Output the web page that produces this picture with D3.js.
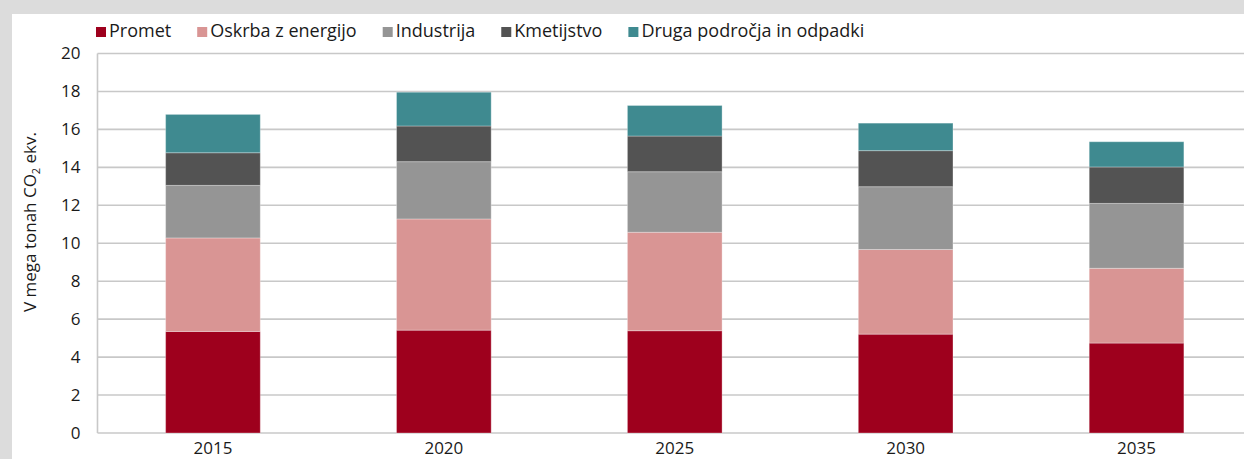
<!DOCTYPE html>
<html>
<head>
<meta charset="utf-8">
<script src="https://cdn.jsdelivr.net/npm/d3@7"></script>
<style>
  body { margin: 0; background: #dcdcdc; }
  text { font-family: "Open Sans", "Noto Sans", sans-serif; fill: #1a1a1a; }
</style>
</head>
<body>
<script>
const config = {
  width: 1244,
  height: 459
};

// Data
const years = ["2015", "2020", "2025", "2030", "2035"];
const seriesNames = ["Promet", "Oskrba z energijo", "Industrija", "Kmetijstvo", "Druga področja in odpadki"];
const promet = [5.35, 5.42, 5.39, 5.21, 4.74];
const oskrba = [4.93, 5.86, 5.19, 4.46, 3.94];
const industrija = [2.77, 3.02, 3.19, 3.31, 3.42];
const kmetijstvo = [1.72, 1.88, 1.88, 1.90, 1.92];
const druga = [2.02, 1.78, 1.61, 1.45, 1.33];
const yTicks = [0, 2, 4, 6, 8, 10, 12, 14, 16, 18, 20];
const colors = ["#9e001d", "#d99594", "#959595", "#535353", "#3f8a90"];

const rows = years.map((y, i) => ({
  year: y,
  "Promet": promet[i],
  "Oskrba z energijo": oskrba[i],
  "Industrija": industrija[i],
  "Kmetijstvo": kmetijstvo[i],
  "Druga področja in odpadki": druga[i]
}));

// Canvas
const svg = d3
  .select("body")
  .append("svg")
  .attr("width", config.width)
  .attr("height", config.height)
  .style("display", "block");

// white panel
svg
  .append("rect")
  .attr("x", 12)
  .attr("y", 14)
  .attr("width", config.width - 12)
  .attr("height", config.height - 14)
  .attr("fill", "#ffffff");

const plot = { left: 97.5, right: 1252, top: 53.5, bottom: 433 };

// Scales
const x = d3
  .scaleBand()
  .domain(years)
  .range([plot.left, plot.right])
  .paddingInner(0.59)
  .paddingOuter(0.295);

const y = d3
  .scaleLinear()
  .domain([0, 20])
  .range([plot.bottom, plot.top]);

const color = d3.scaleOrdinal().domain(seriesNames).range(colors);

// Grid lines
svg
  .append("g")
  .selectAll("line")
  .data(yTicks)
  .enter()
  .append("line")
  .attr("x1", plot.left)
  .attr("x2", config.width)
  .attr("y1", d => y(d))
  .attr("y2", d => y(d))
  .attr("stroke", "#c8c8c8")
  .attr("stroke-width", 1.6);

// left axis line
svg
  .append("line")
  .attr("x1", plot.left)
  .attr("x2", plot.left)
  .attr("y1", plot.top)
  .attr("y2", plot.bottom)
  .attr("stroke", "#c8c8c8")
  .attr("stroke-width", 1.6);

// Stacked bars
const stack = d3.stack().keys(seriesNames);
const layers = stack(rows);

svg
  .append("g")
  .selectAll("g")
  .data(layers)
  .enter()
  .append("g")
  .attr("fill", d => color(d.key))
  .selectAll("rect")
  .data(d => d)
  .enter()
  .append("rect")
  .attr("x", d => x(d.data.year))
  .attr("width", x.bandwidth())
  .attr("y", d => y(d[1]))
  .attr("height", d => y(d[0]) - y(d[1]))
  .attr("stroke", "rgba(255,255,255,0.3)")
  .attr("stroke-width", 1);

// Y axis
const yAxis = svg
  .append("g")
  .attr("transform", `translate(${plot.left},0)`)
  .call(d3.axisLeft(y).tickValues(yTicks).tickSize(0).tickPadding(17));
yAxis.select(".domain").remove();
yAxis
  .selectAll("text")
  .attr("font-size", "17px")
  .attr("fill", "#1a1a1a")
  .style("font-family", "'Open Sans', sans-serif");

// X axis
const xAxis = svg
  .append("g")
  .attr("transform", `translate(0,${plot.bottom})`)
  .call(d3.axisBottom(x).tickSize(0).tickPadding(0));
xAxis.select(".domain").remove();
xAxis
  .selectAll("text")
  .attr("font-size", "17px")
  .attr("fill", "#1a1a1a")
  .attr("dy", null)
  .attr("y", 21)
  .style("font-family", "'Open Sans', sans-serif");

// Y title
const yTitle = svg
  .append("text")
  .attr("transform", "translate(36,222) rotate(-90)")
  .attr("text-anchor", "middle")
  .attr("font-size", "17px");
yTitle.append("tspan").text("V mega tonah CO");
yTitle.append("tspan").attr("font-size", "11px").attr("dy", 4).text("2");
yTitle.append("tspan").attr("dy", -4).text(" ekv.");

// Legend
const legend = svg.append("g").attr("transform", "translate(96,37)");
let lx = 0;
seriesNames.forEach((name, i) => {
  const item = legend.append("g").attr("transform", `translate(${lx},0)`);
  item
    .append("rect")
    .attr("x", 0)
    .attr("y", -10)
    .attr("width", 10)
    .attr("height", 10)
    .attr("fill", colors[i]);
  const t = item
    .append("text")
    .attr("x", 13)
    .attr("y", 0)
    .attr("font-size", "18px")
    .text(name);
  lx += 13 + t.node().getComputedTextLength() + 26;
});
</script>
</body>
</html>
